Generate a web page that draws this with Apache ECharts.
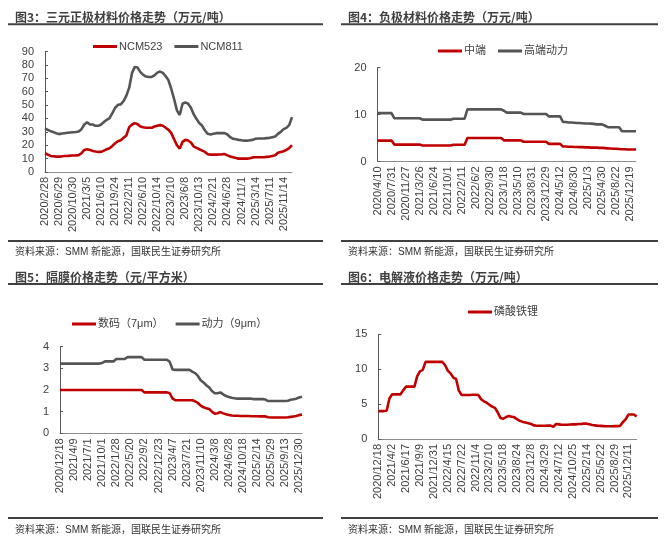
<!DOCTYPE html>
<html>
<head>
<meta charset="utf-8">
<script src="https://cdn.jsdelivr.net/npm/echarts@6/dist/echarts.min.js"></script>
<style>
html,body{margin:0;padding:0;background:#fff;}
#c{width:665px;height:542px;}
</style>
</head>
<body>
<div id="c"></div>
<script>
// ---------- Panel 3: 三元正极材料 ----------
const p1Labels = ['2020/2/28','2020/6/29','2020/10/30','2021/3/5','2021/6/10','2021/9/24','2022/2/11','2022/6/10','2022/10/14','2023/2/10','2023/6/8','2023/10/13','2024/2/21','2024/6/28','2024/11/1','2025/3/14','2025/7/11','2025/11/14'];
const ncm811 = [32.5,31.5,30.5,29.8,29,28.3,28.7,29,29.3,29.5, 29.7,29.9,30.2,32,35.5,37.2,35.5,35.5,34.5,34.5, 35.5,37.3,39,40.3,44,48,50.2,50.5,53,57, 63,74,78.5,78,74.6,72.5,71.3,71,71,72.2, 74.2,75,74,71.5,68.5,62,54.5,46,42.6,51, 52,51,48,43,39.5,36.5,34.5,31,28.5,28, 28.5,29,29,29,29,28,26,24.8,24.4,24, 23.7,23.4,23.4,23.7,24,24.8,25,25,25,25.3, 25.5,26,26.5,28.5,30,32,33,35,41];
const ncm523 = [14,13,12,11.8,11.5,11.5,11.7,12,12,12.2, 12.3,12.4,12.6,14,16.5,17,16.5,15.7,15.3,15, 15,16,17,17.8,19.5,21.5,23,23.7,25.5,27.3, 33.5,35.5,36.5,35.7,34,33.4,33,33,33,34, 34.6,35,34.5,33,31.5,29,24.5,20,17.5,22.5, 24,23.5,22,19,18,17,16,15,13.3,13, 13,13,13.1,13.2,13.4,12.4,11.6,11,10.5,10, 10,10,10,10.3,10.9,11,11,11,11,11.3, 11.5,12,12.5,14.3,15,15.5,16.5,17.8,20];

// ---------- Panel 4: 负极材料 ----------
const p2Labels = ['2020/4/10','2020/7/31','2020/11/27','2021/3/26','2021/6/24','2021/10/1','2022/2/11','2022/6/2','2022/9/30','2023/1/18','2023/5/10','2023/8/31','2023/12/29','2024/5/12','2024/8/30','2025/1/3','2025/4/30','2025/8/22','2025/12/19'];
const highEnd = [10.3,10.3,10.3,10.3,10.3,10.3, 9.2,9.2,9.2,9.2,9.2,9.2,9.2,9.2,9.2,9.2, 8.9,8.9,8.9,8.9,8.9,8.9,8.9,8.9,8.9,8.9,8.9, 9.1,9.1,9.1,9.1,9.1, 11.1,11.1,11.1,11.1,11.1,11.1,11.1,11.1,11.1,11.1,11.1,11.1,11.1, 10.8, 10.4,10.4,10.4,10.4,10.4,10.4, 10.1,10.1,10.1,10.1,10.1,10.1,10.1,10.1,10.1, 9.6,9.6,9.6,9.6,9.6, 8.4,8.4, 8.3,8.3,8.25,8.2,8.2,8.15,8.1,8.1,8.05,8.0, 7.9,7.9,7.9, 7.6, 7.3,7.3,7.3,7.3,7.3, 6.45,6.45,6.45,6.45,6.45,6.45];
const midEnd = [4.45,4.45,4.45,4.45,4.45,4.45, 3.6,3.6,3.6,3.6,3.6,3.6,3.6,3.6,3.6,3.6, 3.4,3.4,3.4,3.4,3.4,3.4,3.4,3.4,3.4,3.4,3.4, 3.55,3.55,3.55,3.55,3.55, 5.0,5.0,5.0,5.0,5.0,5.0,5.0,5.0,5.0,5.0,5.0,5.0,5.0, 4.5,4.5,4.5,4.5,4.5,4.5,4.5, 4.2,4.2,4.2,4.2,4.2,4.2,4.2,4.2,4.2, 3.75,3.75,3.75,3.75,3.75, 3.2,3.2,3.15,3.15,3.1,3.1,3.05,3.05,3.0,3.0,2.95,2.95,2.95,2.9,2.9,2.85,2.8,2.75,2.7,2.7,2.65,2.6,2.6,2.55,2.55,2.55,2.55];

// ---------- Panel 5: 隔膜 ----------
const p3Labels = ['2020/12/18','2021/4/9','2021/7/1','2021/10/1','2022/1/28','2022/5/20','2022/9/2','2022/12/23','2023/4/7','2023/7/21','2023/11/10','2024/3/8','2024/6/28','2024/10/18','2025/2/14','2025/5/29','2025/9/13','2025/12/30'];
const power9 = [3.22,3.22,3.22,3.22,3.22,3.22,3.22,3.22,3.22,3.22,3.22,3.22,3.22,3.22,3.22, 3.25, 3.32,3.32,3.32,3.32, 3.43,3.43,3.43,3.43, 3.52,3.52,3.52,3.52,3.52,3.52, 3.4,3.4,3.4,3.4,3.4,3.4,3.4,3.4,3.4, 3.3, 2.95, 2.93,2.93,2.93,2.93,2.93,2.93, 2.85,2.78,2.65,2.45,2.35,2.22,2.12,1.95,1.85,1.85,1.89,1.8,1.72,1.68,1.64,1.62, 1.6,1.6,1.6,1.6,1.6,1.6, 1.58,1.58,1.58,1.58, 1.56, 1.49,1.49,1.49,1.49,1.49,1.49,1.49, 1.5,1.55,1.57,1.6,1.65,1.69];
const digital7 = [2,2,2,2,2,2,2,2,2,2, 2,2,2,2,2,2,2,2,2,2, 2,2,2,2,2,2,2,2,2,2, 1.89,1.89,1.89,1.89,1.89,1.89,1.89,1.89,1.89, 1.85, 1.6, 1.53,1.53,1.53,1.53,1.53,1.53,1.53, 1.48,1.4,1.28,1.2,1.16,1.12,1.0,0.9,0.93,0.98,0.92,0.88,0.85,0.82, 0.81,0.81,0.8,0.8,0.8,0.8,0.79,0.79,0.79, 0.78,0.78,0.78, 0.74, 0.73,0.73,0.73,0.73,0.73,0.73, 0.74,0.76,0.78,0.8,0.84,0.87];

// ---------- Panel 6: 电解液 ----------
const p4Labels = ['2020/12/18','2021/4/2','2021/6/17','2021/9/9','2021/12/31','2022/4/15','2022/7/22','2022/11/4','2023/2/10','2023/5/18','2023/8/24','2023/12/8','2024/3/29','2024/7/12','2024/10/25','2025/2/14','2025/5/22','2025/8/29','2025/12/11'];
const lfpElectrolyte = [4.0,4.0,4.0,4.05,5.8,6.4,6.4,6.4,6.4,7.0, 7.5,7.5,7.5,7.5,9.0,9.7,9.9,11.05,11.05,11.05, 11.05,11.05,11.05,11.05,10.6,9.8,9.4,8.8,8.6,6.9, 6.3,6.3,6.3,6.3,6.35,6.35,6.3,5.7,5.4,5.2, 4.9,4.65,4.45,3.8,3.0,2.9,3.15,3.3,3.2,3.1, 2.8,2.6,2.45,2.35,2.25,2.15,1.95,1.9,1.9,1.9, 1.9,1.92,1.92,1.75,2.15,2.1,2.05,2.05,2.05,2.08, 2.1,2.1,2.15,2.15,2.2,2.2,2.1,2.0,1.95,1.9, 1.88,1.85,1.82,1.82,1.82,1.84,1.85,1.88,2.4,2.8, 3.5,3.52,3.5,3.25];

const RED = '#C00000', GRAY = '#555555', TXT = '#404040';
const FONT = '"Liberation Sans", "Noto Sans CJK SC", sans-serif';
const STEP = 5;

function makeCats(labels, n) {
  const out = [];
  for (let i = 0; i < n; i++) {
    const j = Math.floor(i / STEP);
    out.push(i % STEP === 0 ? labels[j] : labels[Math.min(j, labels.length - 1)] + '#' + (i % STEP));
  }
  return out;
}

const grids = [
  {left: 45, top: 51.5, width: 247, height: 120.5},
  {left: 377.5, top: 67.5, width: 258.5, height: 94},
  {left: 60, top: 346.7, width: 242, height: 86.6},
  {left: 378.3, top: 334.3, width: 258.4, height: 104.7}
];
const cats = [
  makeCats(p1Labels, ncm811.length),
  makeCats(p2Labels, highEnd.length),
  makeCats(p3Labels, power9.length),
  makeCats(p4Labels, lfpElectrolyte.length)
];
const yCfg = [
  {min: 0, max: 90, interval: 10},
  {min: 0, max: 20, interval: 10},
  {min: 0, max: 4, interval: 1},
  {min: 0, max: 15, interval: 5}
];

const option = {
  animation: false,
  backgroundColor: '#fff',
  textStyle: {fontFamily: FONT},
  grid: grids.map(g => Object.assign({containLabel: false, outerBoundsMode: 'none'}, g)),
  xAxis: cats.map((c, k) => ({
    type: 'category', gridIndex: k, data: c, boundaryGap: false,
    axisLine: {show: true, lineStyle: {color: '#8c8c8c', width: 1}},
    axisTick: {show: false},
    splitLine: {show: false},
    axisLabel: {
      interval: (idx) => idx % STEP === 0, rotate: 90, margin: 5,
      fontSize: 11, color: TXT, fontFamily: FONT
    }
  })),
  yAxis: yCfg.map((y, k) => Object.assign({
    type: 'value', gridIndex: k,
    axisLine: {show: true, lineStyle: {color: '#595959', width: 1}},
    axisTick: {show: true, inside: true, length: 3, lineStyle: {color: '#595959'}},
    splitLine: {show: false},
    axisLabel: {fontSize: 11, color: TXT, margin: 11, fontFamily: FONT}
  }, y)),
  legend: [
    {data: ['NCM523', 'NCM811'], left: 93, top: 41},
    {data: ['中端', '高端动力'], left: 438, top: 45.5},
    {data: ['数码（7μm）', '动力（9μm）'], left: 72, top: 318.5},
    {data: ['磷酸铁锂'], left: 468, top: 306.5}
  ].map(l => Object.assign({
    icon: 'rect', itemWidth: 24, itemHeight: 3, itemGap: 12,
    textStyle: {fontSize: 11, color: TXT, fontFamily: FONT, padding: [0, 0, 0, -3]},
    padding: 0
  }, l)),
  series: [
    {name: 'NCM523', data: ncm523, xAxisIndex: 0, yAxisIndex: 0, color: RED},
    {name: 'NCM811', data: ncm811, xAxisIndex: 0, yAxisIndex: 0, color: GRAY},
    {name: '中端', data: midEnd, xAxisIndex: 1, yAxisIndex: 1, color: RED},
    {name: '高端动力', data: highEnd, xAxisIndex: 1, yAxisIndex: 1, color: GRAY},
    {name: '数码（7μm）', data: digital7, xAxisIndex: 2, yAxisIndex: 2, color: RED},
    {name: '动力（9μm）', data: power9, xAxisIndex: 2, yAxisIndex: 2, color: GRAY},
    {name: '磷酸铁锂', data: lfpElectrolyte, xAxisIndex: 3, yAxisIndex: 3, color: RED}
  ].map(s => Object.assign({
    type: 'line', showSymbol: false, symbol: 'none',
    lineStyle: {width: 2.6, color: s.color}, itemStyle: {color: s.color}
  }, s)),
  graphic: []
};

const titles = [
  {t: '图3：三元正极材料价格走势（万元/吨）', x: 15, y: 17},
  {t: '图4：负极材料价格走势（万元/吨）', x: 348, y: 17},
  {t: '图5：隔膜价格走势（元/平方米）', x: 15, y: 277},
  {t: '图6：电解液价格走势（万元/吨）', x: 348, y: 277}
];
titles.forEach(o => option.graphic.push({
  type: 'text', x: o.x, y: o.y,
  style: {text: o.t, fill: TXT, font: 'bold 12px "Noto Sans CJK SC", sans-serif', verticalAlign: 'middle', align: 'left'}
}));
const seps = [
  [8, 323, 24.3], [341, 658, 24.3], [8, 323, 241], [341, 658, 241],
  [8, 323, 284], [341, 658, 284], [8, 323, 518], [341, 658, 518]
];
seps.forEach(s => option.graphic.push({
  type: 'line', shape: {x1: s[0], y1: s[2], x2: s[1], y2: s[2]},
  style: {stroke: TXT, lineWidth: 2}
}));
const srcs = [[15, 252], [348, 252], [15, 530], [348, 530]];
srcs.forEach(s => option.graphic.push({
  type: 'text', x: s[0], y: s[1],
  style: {text: '资料来源：SMM 新能源，国联民生证券研究所', fill: '#333333', font: '10px "Liberation Sans", "Noto Sans CJK SC", sans-serif', verticalAlign: 'middle', align: 'left'}
}));

const chart = echarts.init(document.getElementById('c'), null, {renderer: 'canvas'});
chart.setOption(option);
</script>
</body>
</html>
